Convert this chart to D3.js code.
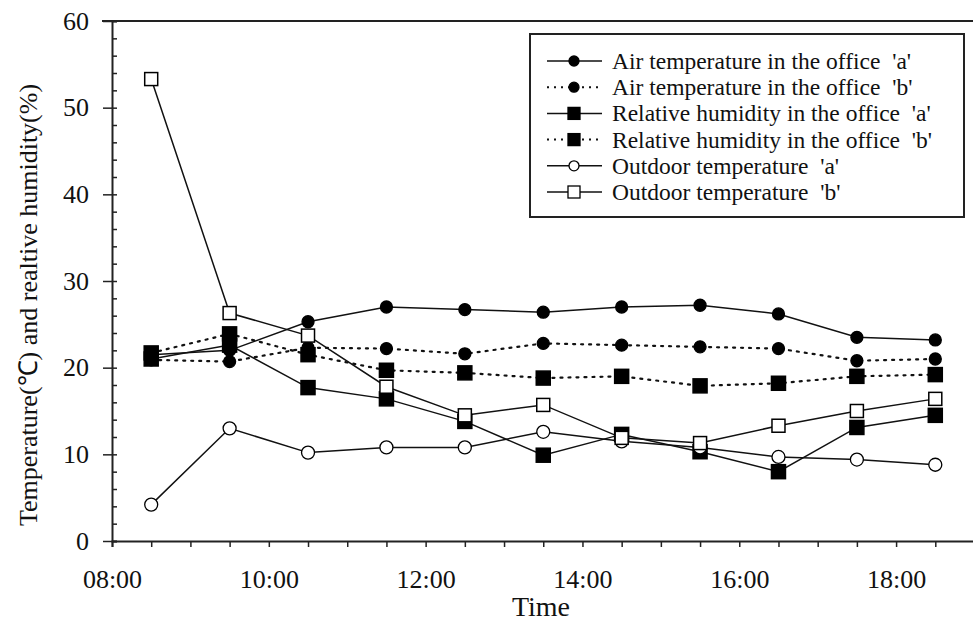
<!DOCTYPE html>
<html><head><meta charset="utf-8">
<script src="https://cdn.jsdelivr.net/npm/d3@7"></script>
<style>
html,body{margin:0;padding:0;background:#fff;}
svg{display:block;}
text{font-family:"Liberation Serif","Times New Roman",serif;fill:#111;}
</style></head>
<body>
<svg id="chart" width="973" height="621"></svg>
<script>
// ---- data ----
const times = [8.5, 9.5, 10.5, 11.5, 12.5, 13.5, 14.5, 15.5, 16.5, 17.5, 18.5];
const airTempA = [21.5, 22.0, 25.3, 27.0, 26.7, 26.4, 27.0, 27.2, 26.2, 23.5, 23.2];
const airTempB = [20.9, 20.7, 22.3, 22.2, 21.6, 22.8, 22.6, 22.4, 22.2, 20.8, 21.0];
const rhA = [21.0, 22.6, 17.7, 16.4, 13.8, 9.9, 12.3, 10.3, 8.0, 13.1, 14.5];
const rhB = [21.7, 23.9, 21.5, 19.7, 19.4, 18.8, 19.0, 17.9, 18.2, 19.0, 19.2];
const outdoorA = [4.2, 13.0, 10.2, 10.8, 10.8, 12.6, 11.5, 10.8, 9.7, 9.4, 8.8];
const outdoorB = [53.3, 26.3, 23.7, 17.8, 14.5, 15.7, 11.9, 11.3, 13.3, 15.0, 16.4];
const xTickValues = [8, 10, 12, 14, 16, 18];
const xTickLabels = ["08:00", "10:00", "12:00", "14:00", "16:00", "18:00"];
const yTickValues = [0, 10, 20, 30, 40, 50, 60];
const seriesNames = [
  "Air temperature in the office  'a'",
  "Air temperature in the office  'b'",
  "Relative humidity in the office  'a'",
  "Relative humidity in the office  'b'",
  "Outdoor temperature  'a'",
  "Outdoor temperature  'b'"
];
const xTitle = "Time";
const yTitle = "Temperature(\u2103) and realtive humidity(%)";

// ---- series styles ----
const series = [
  {name: seriesNames[0], values: airTempA, dash: null, marker: "circle", fill: "#000"},
  {name: seriesNames[1], values: airTempB, dash: "2,6", marker: "circle", fill: "#000"},
  {name: seriesNames[2], values: rhA, dash: null, marker: "square", fill: "#000"},
  {name: seriesNames[3], values: rhB, dash: "2,6", marker: "square", fill: "#000"},
  {name: seriesNames[4], values: outdoorA, dash: null, marker: "circle", fill: "#fff"},
  {name: seriesNames[5], values: outdoorB, dash: null, marker: "square", fill: "#fff"}
];

const svg = d3.select("#chart");
const mLeft = 112, mRight = 974.5, mTop = 21, mBottom = 541;
const x = d3.scaleLinear().domain([8, 19]).range([mLeft, mRight]);
const y = d3.scaleLinear().domain([0, 60]).range([mBottom, mTop]);
const serif = '"Liberation Serif","Times New Roman",serif';

// frame top line
svg.append("line").attr("x1", mLeft - 10).attr("x2", 973).attr("y1", y(60)).attr("y2", y(60))
  .attr("stroke", "#222").attr("stroke-width", 2);

// X axis
const xMinor = d3.range(8, 19.01, 0.5);
const gx = svg.append("g").attr("transform", `translate(0,${mBottom})`)
  .call(d3.axisBottom(x).tickValues(xMinor).tickSize(6).tickFormat(""));
gx.select(".domain").attr("stroke", "#222").attr("stroke-width", 2);
gx.selectAll(".tick line").attr("stroke", "#222").attr("stroke-width", 1.5);
const gxl = svg.append("g").attr("transform", `translate(0,${mBottom})`)
  .call(d3.axisBottom(x).tickValues(xTickValues).tickSize(0).tickPadding(29)
    .tickFormat((d, i) => xTickLabels[i]));
gxl.select(".domain").remove();
gxl.selectAll("text").style("font-size", "26px").style("font-family", serif).attr("fill", "#111");

// Y axis
const yMinor = d3.range(0, 60.01, 2);
const gy = svg.append("g").attr("transform", `translate(${mLeft},0)`)
  .call(d3.axisRight(y).tickValues(yMinor).tickSize(5).tickFormat(""));
gy.select(".domain").attr("stroke", "#222").attr("stroke-width", 2);
gy.selectAll(".tick line").attr("stroke", "#222").attr("stroke-width", 1.5);
const gyM = svg.append("g").attr("transform", `translate(${mLeft},0)`)
  .call(d3.axisLeft(y).tickValues(yTickValues).tickSize(9).tickPadding(14));
gyM.select(".domain").remove();
gyM.selectAll(".tick line").attr("stroke", "#222").attr("stroke-width", 1.5);
gyM.selectAll("text").style("font-size", "26px").style("font-family", serif).attr("fill", "#111");

// Titles
svg.append("text").attr("x", (mLeft + 970) / 2).attr("y", 616).attr("text-anchor", "middle")
  .style("font-size", "28px").style("font-family", serif).text(xTitle);
svg.append("text").attr("transform", `translate(37,${(mTop + mBottom) / 2 + 24}) rotate(-90)`)
  .attr("text-anchor", "middle").style("font-size", "26px").style("font-family", serif).text(yTitle);

// Lines and markers
const line = d3.line().x((d, i) => x(times[i])).y(d => y(d));
function drawMarker(g, type, fill, cx, cy) {
  if (type === "circle") {
    g.append("circle").attr("cx", cx).attr("cy", cy).attr("r", fill === "#fff" ? 6.5 : 6)
      .attr("fill", fill).attr("stroke", "#000").attr("stroke-width", 1.3);
  } else {
    const s = fill === "#fff" ? 13 : 14;
    g.append("rect").attr("x", cx - s / 2).attr("y", cy - s / 2).attr("width", s).attr("height", s)
      .attr("fill", fill).attr("stroke", "#000").attr("stroke-width", 1.5);
  }
}
series.forEach(s => {
  svg.append("path").datum(s.values).attr("d", line).attr("fill", "none")
    .attr("stroke", "#111").attr("stroke-width", s.dash ? 2.2 : 1.5)
    .attr("stroke-dasharray", s.dash).attr("stroke-linecap", s.dash ? "round" : "butt");
});
series.forEach(s => {
  const g = svg.append("g");
  s.values.forEach((v, i) => drawMarker(g, s.marker, s.fill, x(times[i]), y(v)));
});

// Legend
const lg = svg.append("g");
lg.append("rect").attr("x", 530).attr("y", 34).attr("width", 434).attr("height", 183)
  .attr("fill", "#fff").attr("stroke", "#222").attr("stroke-width", 2);
const rowY = d3.scalePoint().domain(d3.range(series.length)).range([61, 192]);
series.forEach((s, i) => {
  const cy = rowY(i);
  lg.append("line").attr("x1", 547).attr("x2", 602).attr("y1", cy).attr("y2", cy)
    .attr("stroke", "#111").attr("stroke-width", s.dash ? 2 : 1.5)
    .attr("stroke-dasharray", s.dash ? "2,5" : null);
  if (s.marker === "circle") {
    lg.append("circle").attr("cx", 574).attr("cy", cy).attr("r", 5)
      .attr("fill", s.fill).attr("stroke", "#000").attr("stroke-width", 1.3);
  } else {
    lg.append("rect").attr("x", 568).attr("y", cy - 6).attr("width", 12).attr("height", 12)
      .attr("fill", s.fill).attr("stroke", "#000").attr("stroke-width", 1.3);
  }
  lg.append("text").attr("x", 612).attr("y", cy + 8).style("font-size", "23.5px").style("font-family", serif)
    .attr("xml:space", "preserve").style("white-space", "pre").text(s.name);
});
</script>
</body></html>
